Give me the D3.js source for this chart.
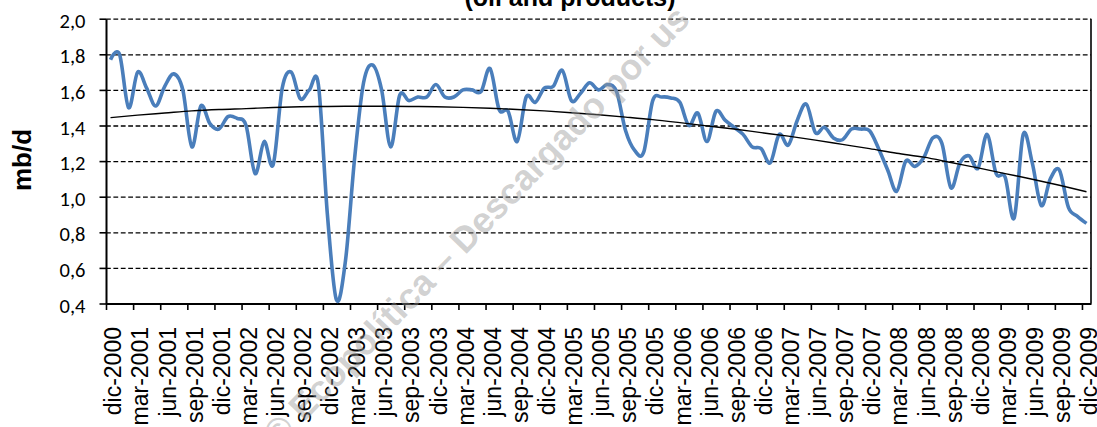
<!DOCTYPE html>
<html>
<head>
<meta charset="utf-8">
<script src="https://cdn.jsdelivr.net/npm/d3@7"></script>
<style>
  body { margin: 0; background: #fff; }
  svg { display: block; }
</style>
</head>
<body>
<div id="chart"></div>
<script>
// tick labels, one every 3 months (dic-2000 .. dic-2009)
const tickLabels = [
    'dic-2000', 'mar-2001', 'jun-2001', 'sep-2001', 'dic-2001', 'mar-2002', 'jun-2002', 'sep-2002',
    'dic-2002', 'mar-2003', 'jun-2003', 'sep-2003', 'dic-2003', 'mar-2004', 'jun-2004', 'sep-2004',
    'dic-2004', 'mar-2005', 'jun-2005', 'sep-2005', 'dic-2005', 'mar-2006', 'jun-2006', 'sep-2006',
    'dic-2006', 'mar-2007', 'jun-2007', 'sep-2007', 'dic-2007', 'mar-2008', 'jun-2008', 'sep-2008',
    'dic-2008', 'mar-2009', 'jun-2009', 'sep-2009', 'dic-2009'
]

// monthly values, mb/d, dic-2000 .. dic-2009 (109 months)
const monthly = [
    1.77, 1.80, 1.50, 1.70, 1.61, 1.51, 1.62, 1.69, 1.60, 1.28, 1.51, 1.41,
    1.38, 1.45, 1.44, 1.40, 1.13, 1.31, 1.18, 1.61, 1.70, 1.55, 1.60, 1.63,
    0.90, 0.42, 0.64, 1.21, 1.64, 1.74, 1.60, 1.28, 1.57, 1.54, 1.56, 1.56,
    1.63, 1.56, 1.56, 1.60, 1.60, 1.59, 1.72, 1.49, 1.48, 1.31, 1.56, 1.53,
    1.61, 1.62, 1.71, 1.54, 1.58, 1.64, 1.60, 1.63, 1.59, 1.37, 1.26, 1.25,
    1.54, 1.56, 1.555, 1.53, 1.40, 1.47, 1.31, 1.48, 1.43, 1.39, 1.35, 1.28,
    1.27, 1.19, 1.35, 1.29, 1.43, 1.52, 1.36, 1.39, 1.33, 1.32, 1.38, 1.38,
    1.37, 1.27, 1.15, 1.03, 1.20, 1.17, 1.22, 1.33, 1.30, 1.05, 1.19, 1.23,
    1.16, 1.35, 1.13, 1.11, 0.88, 1.35, 1.19, 0.95, 1.10, 1.15, 0.94, 0.89,
    0.85
]

// trend line read at every tick month
const trend = [
    1.444, 1.458, 1.470, 1.482, 1.490, 1.495, 1.501, 1.505, 1.507, 1.508, 1.508, 1.507,
    1.505, 1.502, 1.497, 1.490, 1.482, 1.472, 1.460, 1.447, 1.433, 1.416, 1.398, 1.380,
    1.360, 1.340, 1.318, 1.294, 1.270, 1.244, 1.222, 1.192, 1.162, 1.130, 1.098, 1.064,
    1.028
]

const yTicks = [0.4, 0.6, 0.8, 1.0, 1.2, 1.4, 1.6, 1.8, 2.0]

const width = 1097, height = 427
const plot = {left: 106, right: 1091, top: 18.7, bottom: 303.5}

const svg = d3.select('#chart')
    .append('svg')
        .attr('width', width)
        .attr('height', height)

// month index scale: slot i spans [i, i+1], point at the middle
const xScale = d3.scaleLinear()
    .domain([0, monthly.length])
    .range([plot.left, plot.right])

const yScale = d3.scaleLinear()
    .domain([0.4, 2.0])
    .range([plot.bottom, plot.top])

const fmt = (d) => d3.format('.1f')(d).replace('.', ',')

// gridlines
svg.append('g')
    .attr('class', 'grid')
    .attr('transform', 'translate(' + plot.left + ',0)')
    .call(d3.axisLeft(yScale)
        .tickValues(yTicks.slice(1))
        .tickSize(-(plot.right - plot.left))
        .tickFormat(''))
    .call((g) => g.select('.domain').remove())
    .selectAll('line')
        .attr('stroke', '#000')
        .attr('stroke-width', 1.3)
        .attr('stroke-dasharray', '4.8,2.6')

// right border of plot area
svg.append('line')
    .attr('x1', plot.right).attr('x2', plot.right)
    .attr('y1', plot.top).attr('y2', plot.bottom)
    .attr('stroke', '#000')
    .attr('stroke-width', 1.6)

// Y axis
const yAxis = svg.append('g')
    .attr('transform', 'translate(' + plot.left + ',0)')
    .call(d3.axisLeft(yScale)
        .tickValues(yTicks)
        .tickSize(6.5)
        .tickSizeOuter(0)
        .tickPadding(14)
        .tickFormat(fmt))
yAxis.select('.domain').attr('stroke-width', 2)
yAxis.selectAll('line').attr('stroke-width', 1.6)
yAxis.selectAll('text')
    .attr('dy', '0.42em')
    .style('font-family', 'Calibri, Carlito, "Open Sans", sans-serif')
    .style('font-size', '20.5px')
    .style('fill', '#000')

// X axis (ticks every 3 months at slot boundaries)
const tickMonths = tickLabels.map((d, k) => k * 3)
const xAxis = svg.append('g')
    .attr('transform', 'translate(0,' + plot.bottom + ')')
    .call(d3.axisBottom(xScale)
        .tickValues(tickMonths)
        .tickSize(6.5)
        .tickSizeOuter(0)
        .tickFormat(''))
xAxis.select('.domain').attr('stroke-width', 2)
xAxis.selectAll('line').attr('stroke-width', 1.6)

svg.append('g')
    .attr('class', 'x-labels')
    .selectAll('text')
    .data(tickLabels)
    .join('text')
        .attr('transform', (d, k) =>
            'translate(' + (xScale(tickMonths[k]) + 7) + ',327) rotate(-90)')
        .attr('dy', '0.36em')
        .attr('text-anchor', 'end')
        .style('font-family', '"Liberation Sans", Arial, sans-serif')
        .style('font-size', '23px')
        .style('fill', '#000')
        .text((d) => d)

// monthly series
const monthLine = d3.line()
    .x((d, i) => xScale(i + 0.5))
    .y((d) => yScale(d))
    .curve(d3.curveCatmullRom.alpha(0))

svg.append('path')
    .attr('d', monthLine(monthly))
    .attr('fill', 'none')
    .attr('stroke', '#4a7ebb')
    .attr('stroke-width', 3.6)
    .attr('stroke-linejoin', 'round')

// trend line
const trendLine = d3.line()
    .x((d, k) => xScale(tickMonths[k] + 0.5))
    .y((d) => yScale(d))
    .curve(d3.curveMonotoneX)

svg.append('path')
    .attr('d', trendLine(trend))
    .attr('fill', 'none')
    .attr('stroke', '#000')
    .attr('stroke-width', 1.4)

// y axis title
svg.append('text')
    .attr('transform', 'translate(22,160) rotate(-90)')
    .attr('dy', '0.36em')
    .attr('text-anchor', 'middle')
    .style('font-family', '"Liberation Sans", Arial, sans-serif')
    .style('font-weight', 'bold')
    .style('font-size', '26px')
    .text('mb/d')

// chart title (upper part is cut off)
svg.append('text')
    .attr('x', 570)
    .attr('y', 5.5)
    .attr('text-anchor', 'middle')
    .style('font-family', '"Liberation Sans", Arial, sans-serif')
    .style('font-weight', 'bold')
    .style('font-size', '25px')
    .text('(oil and products)')

// watermark
svg.append('text')
    .attr('transform', 'translate(476,226) rotate(-46)')
    .attr('dy', '0.35em')
    .attr('text-anchor', 'middle')
    .style('font-family', '"Liberation Sans", Arial, sans-serif')
    .style('font-weight', 'bold')
    .style('font-size', '36px')
    .style('fill', '#999')
    .style('fill-opacity', 0.45)
    .text('© Ecopolítica – Descargado por us')
</script>
</body>
</html>
